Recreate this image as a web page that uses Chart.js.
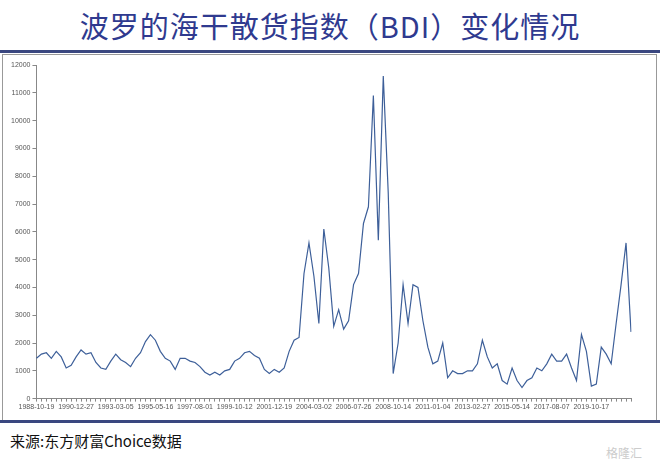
<!DOCTYPE html>
<html><head><meta charset="utf-8">
<script src="https://cdn.jsdelivr.net/npm/chart.js@4"></script>
<style>
body{margin:0;width:660px;height:464px;background:#fff;position:relative;overflow:hidden;font-family:"Noto Sans CJK SC",sans-serif}
#title{position:absolute;left:0;top:4px;width:660px;text-align:center;font-size:29px;color:#2f3a8f;letter-spacing:1px}
#l1{position:absolute;left:0;top:50px;width:660px;height:3px;background:#3a4780}
#frame{position:absolute;left:2px;top:54px;width:653px;height:366px;border:1px solid #999}
#l2{position:absolute;left:0;top:420px;width:660px;height:3px;background:#3a4780}
#src{position:absolute;left:10px;top:430px;font-size:15px;color:#111}
#wm{position:absolute;left:606px;top:444px;font-size:12px;color:#ccc}
#c{position:absolute;left:3px;top:58px}
</style></head><body>
<div id="title">波罗的海干散货指数（BDI）变化情况</div>
<div id="l1"></div><div id="frame"></div><div id="l2"></div>
<div id="src">来源:东方财富Choice数据</div>
<div id="wm">格隆汇</div>
<canvas id="c" width="650" height="354"></canvas>
<script>
const tickLabels=["1988-10-19","1990-12-27","1993-03-05","1995-05-16","1997-08-01","1999-10-12","2001-12-19","2004-03-02","2006-07-26","2008-10-14","2011-01-04","2013-02-27","2015-05-14","2017-08-07","2019-10-17"];
const bdi=[1450,1600,1650,1450,1700,1500,1100,1200,1500,1750,1600,1650,1300,1100,1050,1350,1600,1400,1300,1150,1450,1650,2050,2300,2100,1700,1450,1350,1050,1450,1450,1350,1300,1150,950,850,950,850,1000,1050,1350,1450,1650,1700,1550,1450,1050,900,1050,950,1100,1700,2100,2200,4500,5600,4400,2700,6100,4700,2600,3200,2500,2800,4100,4500,6300,6900,10900,5700,11600,7400,900,2000,4100,2700,4100,4000,2800,1850,1250,1350,2000,750,1000,900,900,1000,1000,1250,2100,1500,1100,1250,650,520,1100,650,400,650,750,1100,1000,1250,1600,1350,1350,1600,1100,650,2300,1700,450,520,1850,1600,1250,2700,4100,5600,2400];
const labels=bdi.map((v,i)=>i%8===0&&tickLabels[i/8]?tickLabels[i/8]:"");
new Chart(document.getElementById('c'),{type:'line',
data:{labels,datasets:[{data:bdi,borderColor:'#3d5f99',borderWidth:1.2,pointRadius:0,tension:0}]},
options:{responsive:false,animation:false,plugins:{legend:{display:false},tooltip:{enabled:false}},
layout:{padding:{left:6,right:22,top:7,bottom:0}},
scales:{x:{offset:false,grid:{display:true,drawOnChartArea:false,tickLength:3,color:'#888'},border:{color:'#888'},
 ticks:{autoSkip:false,maxRotation:0,minRotation:0,font:{size:7},color:'#555',padding:1,callback:(v,i)=>labels[i]}},
 y:{min:0,max:12000,grid:{drawOnChartArea:false,tickLength:4,color:'#888'},border:{color:'#888'},
 ticks:{stepSize:1000,font:{size:7},color:'#555',padding:2,callback:v=>String(v)}}}}});
</script></body></html>
